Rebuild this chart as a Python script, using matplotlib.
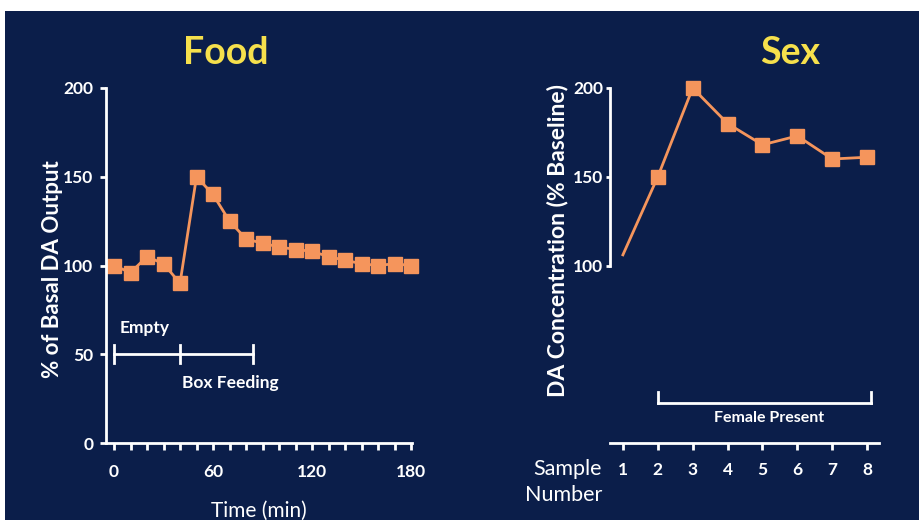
import numpy as np
import matplotlib
matplotlib.use('Agg')
import matplotlib.pyplot as plt
from matplotlib.patches import Rectangle

# data
food_time = [0, 10, 20, 30, 40, 50, 60, 70, 80, 90, 100, 110, 120, 130, 140, 150, 160, 170, 180]
food_da = [100, 96, 105, 101, 90, 150, 140, 125, 115, 112.5, 110.5, 109, 108, 105, 103, 101, 100, 101, 100]
food_xticks = [0, 60, 120, 180]
food_yticks = [0, 50, 100, 150, 200]

sex_sample = [1, 2, 3, 4, 5, 6, 7, 8]
sex_da = [106, 150, 200, 180, 168, 173, 160, 161]
sex_yticks = [100, 150, 200]

navy = '#0b1e4a'
orange = '#f5955c'
yellow = '#f6e04c'
white = 'white'

plt.rcParams['font.family'] = ['Lato', 'DejaVu Sans']

fig = plt.figure(figsize=(9.2, 5.2), dpi=100, facecolor='white')
# navy slide background, white strip along top and left
bg = Rectangle((5 / 920, 0), 1, 1 - 11 / 520, transform=fig.transFigure,
               facecolor=navy, edgecolor='none', zorder=-10)
fig.add_artist(bg)

# titles
fig.text(226 / 920, 1 - 53 / 520, 'Food', color=yellow, fontsize=27, fontweight='bold',
         ha='center', va='center')
fig.text(790 / 920, 1 - 53 / 520, 'Sex', color=yellow, fontsize=27, fontweight='bold',
         ha='center', va='center')

# ---- Food ----
ax1 = fig.add_axes([106 / 920, 77 / 520, 306 / 920, 355 / 520])
ax1.set_facecolor('none')
ax1.plot(food_time, food_da, color=orange, lw=2, marker='s', ms=9.5, clip_on=False)
ax1.set_xlim(-4.85, 180.6)
ax1.set_ylim(0, 200)
ax1.set_xticks(np.arange(0, 181, 10))
ax1.set_xticklabels([str(t) if t in food_xticks else '' for t in range(0, 181, 10)])
ax1.set_yticks(food_yticks)
for s in ['top', 'right']:
    ax1.spines[s].set_visible(False)
for s in ['left', 'bottom']:
    ax1.spines[s].set_color(white)
    ax1.spines[s].set_linewidth(2)
ax1.tick_params(colors=white, width=2, length=5, labelsize=12.5, pad=10)
ax1.tick_params(axis='y', length=4, pad=5)
for lab in ax1.get_xticklabels() + ax1.get_yticklabels():
    lab.set_fontweight('bold')
ax1.set_ylabel('% of Basal DA Output', color=white, fontsize=16, fontweight='bold')
ax1.yaxis.set_label_coords(-0.14, 0.49)
ax1.set_xlabel('Time (min)', color=white, fontsize=15, labelpad=15)

# Empty / Box Feeding bar
ax1.plot([0, 84], [50, 50], color=white, lw=2)
for xc in [0, 40, 84]:
    ax1.plot([xc, xc], [45, 55], color=white, lw=2)
ax1.text(3.5, 65, 'Empty', color=white, fontsize=12.5, fontweight='bold', va='center')
ax1.text(41, 34, 'Box Feeding', color=white, fontsize=12.5, fontweight='bold', va='center')

# ---- Sex ----
ax2 = fig.add_axes([610 / 920, 77 / 520, 269 / 920, 355 / 520])
ax2.set_facecolor('none')
ax2.plot(sex_sample, sex_da, color=orange, lw=2, clip_on=False)
ax2.plot(sex_sample[1:], sex_da[1:], ls='none', marker='s', ms=9.5, color=orange, clip_on=False)
ax2.set_xlim(0.63, 8.34)
ax2.set_ylim(0, 200)
ax2.set_xticks(sex_sample)
ax2.set_yticks(sex_yticks)
for s in ['top', 'right']:
    ax2.spines[s].set_visible(False)
for s in ['left', 'bottom']:
    ax2.spines[s].set_color(white)
    ax2.spines[s].set_linewidth(2)
ax2.spines['left'].set_bounds(100, 200)
ax2.tick_params(colors=white, width=2, length=5, labelsize=12.5, pad=9)
ax2.tick_params(axis='y', length=3, pad=2)
for lab in ax2.get_xticklabels() + ax2.get_yticklabels():
    lab.set_fontweight('bold')
ax2.set_ylabel('DA Concentration (% Baseline)', color=white, fontsize=16.5, fontweight='bold')
ax2.yaxis.set_label_coords(-0.155, 0.57)
ax2.text(-0.03, -0.045, 'Sample\nNumber', transform=ax2.transAxes, color=white,
         fontsize=15.5, ha='right', va='top', linespacing=1.4)

# Female Present bracket
ax2.plot([2.0, 8.1], [22.7, 22.7], color=white, lw=2)
for xc in [2.0, 8.1]:
    ax2.plot([xc, xc], [22.7, 28.5], color=white, lw=2)
ax2.text(5.2, 14, 'Female Present', color=white, fontsize=11.5, fontweight='bold',
         ha='center', va='center')

fig.savefig('out.png', dpi=100, facecolor=fig.get_facecolor())
